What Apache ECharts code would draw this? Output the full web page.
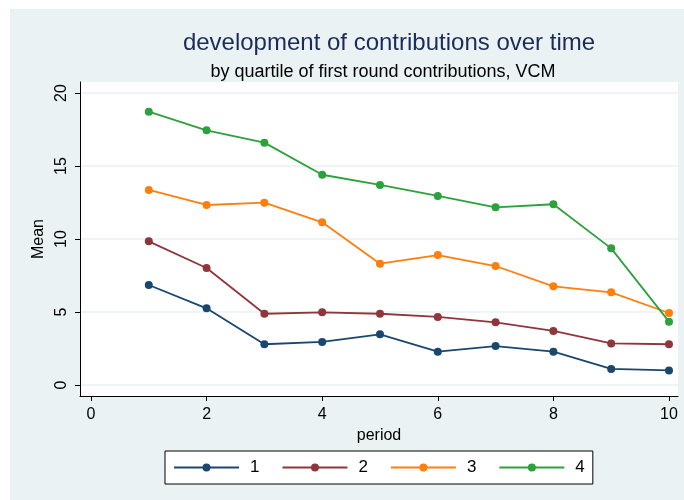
<!DOCTYPE html>
<html>
<head>
<meta charset="utf-8">
<script src="https://cdn.jsdelivr.net/npm/echarts@6/dist/echarts.min.js"></script>
<style>
html, body { margin: 0; padding: 0; background: #fff; }
#main { width: 684px; height: 500px; }
</style>
</head>
<body>
<div id="main"></div>
<script>
// periods 1..10, mean contribution by first-round quartile
var periods = [1, 2, 3, 4, 5, 6, 7, 8, 9, 10];
var quart1 = [6.85, 5.25, 2.79, 2.95, 3.47, 2.28, 2.67, 2.28, 1.10, 1.00];
var quart2 = [9.84, 8.01, 4.88, 4.98, 4.88, 4.66, 4.29, 3.70, 2.85, 2.79];
var quart3 = [13.36, 12.33, 12.49, 11.14, 8.31, 8.90, 8.15, 6.76, 6.35, 4.93];
var quart4 = [18.72, 17.44, 16.60, 14.40, 13.70, 12.95, 12.17, 12.38, 9.36, 4.34];
var seriesNames = ['1', '2', '3', '4'];
var colors = ['#1a476f', '#90353b', '#ff7f0e', '#2ca13c'];
var xTicks = [0, 2, 4, 6, 8, 10];
var yTicks = [0, 5, 10, 15, 20];

var font = 'Liberation Sans, Arial, sans-serif';

function pairs(vals) {
	var out = [];
	for(var i = 0; i < periods.length; i++) {
		out.push([periods[i], vals[i]]);
	}
	return out;
}

var allVals = [quart1, quart2, quart3, quart4];
var series = [];
for(var k = 0; k < allVals.length; k++) {
	series.push({
		name: seriesNames[k],
		type: 'line',
		data: pairs(allVals[k]),
		symbol: 'circle',
		symbolSize: 8,
		color: colors[k],
		lineStyle: { width: 1.8, color: colors[k] },
		itemStyle: { color: colors[k] },
		z: 3 + k
	});
}

var chart = echarts.init(document.getElementById('main'));
chart.setOption({
	backgroundColor: '#fff',
	animation: false,
	graphic: [{
		type: 'rect',
		shape: { x: 10, y: 9, width: 674, height: 491 },
		style: { fill: '#eaf2f3' },
		z: -10
	}],
	title: [{
		text: 'development of contributions over time',
		left: 384,
		top: 26,
		textAlign: 'center',
		textStyle: { fontFamily: font, fontSize: 24, fontWeight: 'normal', color: '#1c2c58' }
	}, {
		text: 'by quartile of first round contributions, VCM',
		left: 378,
		top: 58,
		textAlign: 'center',
		textStyle: { fontFamily: font, fontSize: 18, fontWeight: 'normal', color: '#000' }
	}],
	legend: {
		data: seriesNames,
		left: 165,
		top: 451,
		orient: 'horizontal',
		backgroundColor: '#fff',
		borderColor: '#000',
		borderWidth: 1,
		borderRadius: 0,
		padding: [8, 8, 8, 8],
		itemWidth: 65,
		itemHeight: 10,
		itemGap: 22,
		textStyle: { fontFamily: font, fontSize: 17, color: '#000', padding: [0, 0, 0, 6] }
	},
	grid: {
		left: 80,
		right: 6,
		top: 82,
		bottom: 104,
		show: true,
		backgroundColor: '#fff',
		borderWidth: 0
	},
	xAxis: {
		type: 'value',
		min: -0.19,
		max: 10.156,
		name: 'period',
		nameLocation: 'middle',
		nameGap: 30,
		nameTextStyle: { fontFamily: font, fontSize: 16, color: '#000' },
		axisLine: { show: true, onZero: false, lineStyle: { color: '#000', width: 1 } },
		axisTick: { show: true, customValues: xTicks, length: 5, lineStyle: { color: '#000' } },
		axisLabel: { customValues: xTicks, fontFamily: font, fontSize: 16, color: '#000', margin: 11 },
		splitLine: { show: false }
	},
	yAxis: {
		type: 'value',
		min: -0.753,
		max: 20.753,
		name: 'Mean',
		nameLocation: 'middle',
		nameRotate: 90,
		nameGap: 28,
		nameTextStyle: { fontFamily: font, fontSize: 16, color: '#000' },
		axisLine: { show: true, onZero: false, lineStyle: { color: '#000', width: 1 } },
		axisTick: { show: true, customValues: yTicks, length: 5, lineStyle: { color: '#000' } },
		axisLabel: { customValues: yTicks, rotate: 90, fontFamily: font, fontSize: 16, color: '#000', margin: 10 },
		splitLine: { show: true, lineStyle: { color: '#eaf2f3', width: 1.5 } }
	},
	series: series
});
</script>
</body>
</html>
